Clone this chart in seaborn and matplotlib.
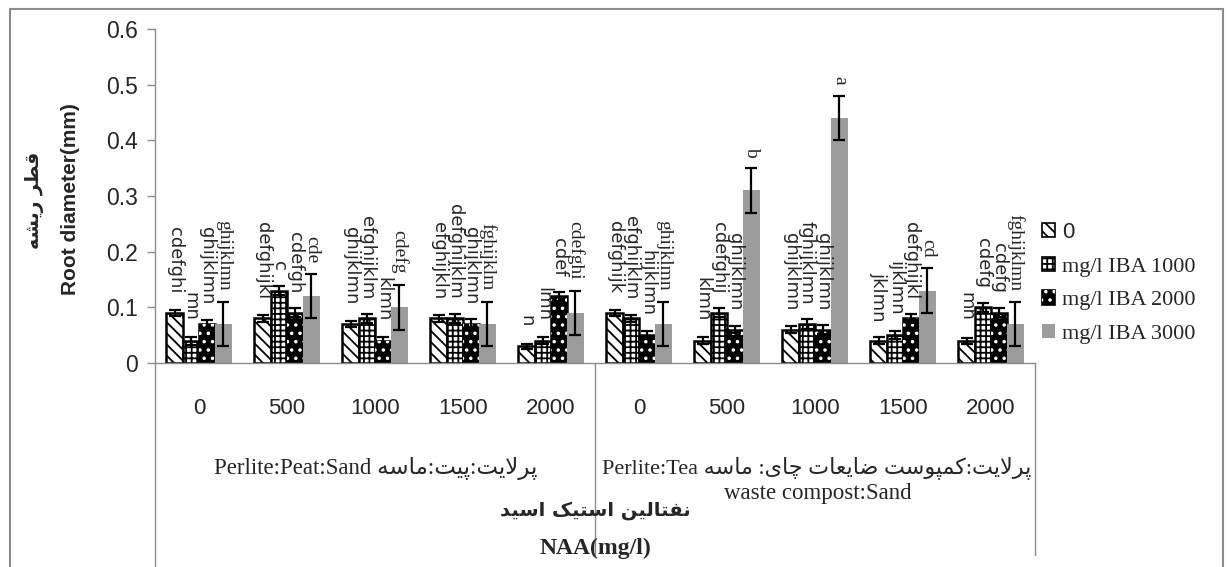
import numpy as np
import pandas as pd
import matplotlib
matplotlib.use("Agg")
import matplotlib.pyplot as plt
import matplotlib.transforms as mtransforms
from matplotlib.patches import Patch, Rectangle
import seaborn as sns

# ---- Data ----
naa_levels = ['0', '500', '1000', '1500', '2000']
substrates = ['pps', 'ptws']
iba_levels = ['0', 'mg/l IBA 1000', 'mg/l IBA 2000', 'mg/l IBA 3000']

iba_0 = [0.09, 0.08, 0.07, 0.08, 0.03, 0.09, 0.04, 0.06, 0.04, 0.04]
iba_1000 = [0.04, 0.13, 0.08, 0.08, 0.04, 0.08, 0.09, 0.07, 0.05, 0.10]
iba_2000 = [0.07, 0.09, 0.04, 0.07, 0.12, 0.05, 0.06, 0.06, 0.08, 0.09]
iba_3000 = [0.07, 0.12, 0.10, 0.07, 0.09, 0.07, 0.31, 0.44, 0.13, 0.07]

err_0 = [0.006, 0.006, 0.005, 0.006, 0.005, 0.006, 0.006, 0.007, 0.006, 0.005]
err_1000 = [0.007, 0.008, 0.008, 0.008, 0.006, 0.007, 0.008, 0.009, 0.007, 0.008]
err_2000 = [0.008, 0.008, 0.007, 0.009, 0.008, 0.007, 0.007, 0.008, 0.008, 0.008]
err_3000 = [0.04, 0.04, 0.04, 0.04, 0.04, 0.04, 0.04, 0.04, 0.04, 0.04]

letters_0 = ['cdefghi', 'defghijkl', 'ghijklmn', 'efghijkln', 'n',
             'defghijk', 'klmn', 'ghijklmn', 'jklmn', 'mn']
letters_1000 = ['mn', 'c', 'efghijklm', 'defghijklm', 'lmn',
                'efghijklm', 'cdefghij', 'fghijklmn', 'ijklmn', 'cdefg']
letters_2000 = ['ghijklmn', 'cdefgh', 'klmn', 'ghijklmn', 'cdef',
                'hijklmn', 'ghijklmn', 'ghijklmn', 'defghijkl', 'cdefg']
letters_3000 = ['ghijklmn', 'cde', 'cdefg', 'fghijklm', 'cdefghi',
                'ghijklmn', 'b', 'a', 'cd', 'fghijklmn']

y_label_en = 'Root diameter(mm)'
y_label_fa = 'قطر ریشه'
x_label_en = 'NAA(mg/l)'
x_label_fa = 'نفتالین استیک اسید'
sub1_fa = 'پرلایت:پیت:ماسه'
sub1_en = 'Perlite:Peat:Sand'
sub2_fa = 'پرلایت:کمپوست ضایعات چای: ماسه'
sub2_en1 = 'Perlite:Tea'
sub2_en2 = 'waste compost:Sand'

# ---- Persian shaping (matplotlib has no bidi / joining) ----
JOIN = {'ا': (0xFE8D, 0), 'د': (0xFEA9, 0), 'ر': (0xFEAD, 0), 'و': (0xFEED, 0),
        'ق': (0xFED5, 1), 'ط': (0xFEC1, 1), 'ی': (0xFBFC, 1), 'ش': (0xFEB5, 1),
        'ه': (0xFEE9, 1), 'پ': (0xFB56, 1), 'ل': (0xFEDD, 1), 'ت': (0xFE95, 1),
        'م': (0xFEE1, 1), 'س': (0xFEB1, 1), 'ک': (0xFB8E, 1), 'ض': (0xFEBD, 1),
        'ع': (0xFEC9, 1), 'چ': (0xFB7A, 1), 'ن': (0xFEE5, 1), 'ف': (0xFED1, 1)}


def rtl(text):
    out = []
    i = 0
    while i < len(text):
        ch = text[i]
        prev = text[i - 1] if i > 0 else ''
        joins_prev = prev in JOIN and JOIN[prev][1] == 1
        if ch == 'ل' and i + 1 < len(text) and text[i + 1] == 'ا':
            out.append(chr(0xFEFC if joins_prev else 0xFEFB))
            i += 2
            continue
        if ch in JOIN:
            base, dual = JOIN[ch]
            nxt = text[i + 1] if i + 1 < len(text) else ''
            joins_next = dual == 1 and nxt in JOIN
            if joins_prev and joins_next:
                form = 3
            elif joins_prev:
                form = 1
            elif joins_next:
                form = 2
            else:
                form = 0
            out.append(chr(base + form))
        else:
            out.append(ch)
        i += 1
    return ''.join(reversed(out))


# ---- Setup ----
sns.set_style("white")
plt.rcParams['font.family'] = ['Liberation Sans', 'DejaVu Sans']
plt.rcParams['hatch.linewidth'] = 1.3

W, H = 1231, 567
fig = plt.figure(figsize=(W / 100, H / 100), dpi=100)
ax = fig.add_axes([155 / W, 1 - 363 / H, 880 / W, 334 / H])

groups = [f'{s}-{n}' for s in substrates for n in naa_levels]
series = [iba_0, iba_1000, iba_2000, iba_3000]
errors = [err_0, err_1000, err_2000, err_3000]
letters = [letters_0, letters_1000, letters_2000, letters_3000]

rows = []
for lvl, vals in zip(iba_levels, series):
    for g, v in zip(groups, vals):
        rows.append({'group': g, 'iba': lvl, 'diameter': v})
df = pd.DataFrame(rows)

sns.barplot(data=df, x='group', y='diameter', hue='iba', order=groups,
            hue_order=iba_levels, width=0.74, errorbar=None, saturation=1,
            palette=['white', 'white', 'black', '#9c9c9c'], legend=False, ax=ax)

styles = [dict(fc='white', ec='black', hatch='\\\\\\', lw=1.8),
          dict(fc='white', ec='black', hatch='+++', lw=1.8),
          dict(fc='black', ec='black', hatch=None, lw=1.8),
          dict(fc='#9c9c9c', ec='#9c9c9c', hatch=None, lw=0)]

bar_containers = list(ax.containers)
for k, cont in enumerate(bar_containers):
    st = styles[k]
    xs = []
    for bar in cont:
        bar.set_facecolor(st['fc'])
        bar.set_edgecolor(st['ec'])
        bar.set_linewidth(st['lw'])
        bar.set_hatch(st['hatch'])
        if k == 2:
            ax.add_patch(Rectangle(bar.get_xy(), bar.get_width(), bar.get_height(),
                                   facecolor='none', edgecolor='white', hatch='..',
                                   lw=0, zorder=bar.get_zorder() + 0.1))
        xs.append(bar.get_x() + bar.get_width() / 2)
    ax.errorbar(xs, series[k], yerr=errors[k], fmt='none', ecolor='black',
                elinewidth=1.6, capsize=4.5, capthick=1.6, zorder=5)
    for x, v, e, lab in zip(xs, series[k], errors[k], letters[k]):
        if k == 3:
            ax.text(x, v + e + 0.02, lab, rotation=270, ha='center', va='bottom',
                    fontsize=14, family='Liberation Serif')
        else:
            ax.text(x, v + 0.035, lab, rotation=270, ha='center', va='bottom',
                    fontsize=13, family='DejaVu Sans')

# ---- Axes ----
axis_grey = '#8c8c8c'
ax.set_ylim(0, 0.6)
ax.set_xlim(-0.5, len(groups) - 0.5)
yt = np.arange(0, 0.61, 0.1).round(1)
ax.set_yticks(yt)
ax.set_yticklabels([f'{v:g}' for v in yt], fontsize=16.5)
ax.set_xticks(range(len(groups)))
ax.set_xticklabels(naa_levels * 2, fontsize=16)
ax.set_xticks(np.arange(-0.5, len(groups), 1), minor=True)
ax.tick_params(axis='x', which='major', length=0, pad=25)
ax.tick_params(axis='x', which='minor', length=55, width=1, color=axis_grey)
ax.tick_params(axis='y', which='major', length=6, width=1, color=axis_grey,
               direction='out', pad=6, left=True)
ax.set_xlabel('')
ax.set_ylabel('')
for side in ['top', 'right']:
    ax.spines[side].set_visible(False)
for side in ['left', 'bottom']:
    ax.spines[side].set_color(axis_grey)
    ax.spines[side].set_linewidth(1)

trans = mtransforms.blended_transform_factory(ax.transData, ax.transAxes)
ax.plot([-0.5, -0.5], [0, -0.62], color=axis_grey, lw=1, transform=trans, clip_on=False)
for xb in [4.5, 9.5]:
    ax.plot([xb, xb], [0, -0.575], color=axis_grey, lw=1, transform=trans, clip_on=False)


def fig_xy(px, py):
    return px / W, 1 - py / H


# ---- Axis titles & category labels ----
fig.text(*fig_xy(71, 199), y_label_en, rotation=90, ha='center', va='center',
         fontsize=15, fontweight='bold', family='Liberation Sans')
fig.text(*fig_xy(34, 200), rtl(y_label_fa), rotation=90, ha='center', va='center',
         fontsize=13.5, fontweight='bold', family='DejaVu Sans')
fig.text(*fig_xy(376, 468), sub1_en + ' ' + rtl(sub1_fa), ha='center', va='center',
         fontsize=16.5, family=['Liberation Serif', 'DejaVu Sans'])
fig.text(*fig_xy(817, 468), sub2_en1 + ' ' + rtl(sub2_fa), ha='center', va='center',
         fontsize=16, family=['Liberation Serif', 'DejaVu Sans'])
fig.text(*fig_xy(818, 493), sub2_en2, ha='center', va='center',
         fontsize=16.5, family='Liberation Serif')
fig.text(*fig_xy(595, 510), rtl(x_label_fa), ha='center', va='center',
         fontsize=14, fontweight='bold', family='DejaVu Sans')
fig.text(*fig_xy(595, 548), x_label_en, ha='center', va='center',
         fontsize=17, fontweight='bold', family='Liberation Serif')

# ---- Legend ----
handles = [Patch(facecolor='white', edgecolor='black', hatch='\\\\\\', lw=1.2),
           Patch(facecolor='white', edgecolor='black', hatch='+++', lw=1.2),
           (Patch(facecolor='black', edgecolor='black', lw=1.2),
            Patch(facecolor='none', edgecolor='white', hatch='..', lw=0)),
           Patch(facecolor='#9c9c9c', edgecolor='none')]
leg = ax.legend(handles, iba_levels, loc='upper left',
                bbox_to_anchor=fig_xy(1042, 222), bbox_transform=fig.transFigure,
                frameon=False, handlelength=0.6, handleheight=0.6, handletextpad=0.3,
                labelspacing=0.62, borderpad=0, borderaxespad=0,
                prop={'family': 'Liberation Serif', 'size': 16})
leg.get_texts()[0].set_family('Liberation Sans')

# outer chart border
fig.patches.append(Rectangle(fig_xy(10, 575), 1213 / W, 566 / H, transform=fig.transFigure,
                             fill=False, edgecolor=axis_grey, lw=1.5, figure=fig))

fig.savefig('out.png', dpi=100)
